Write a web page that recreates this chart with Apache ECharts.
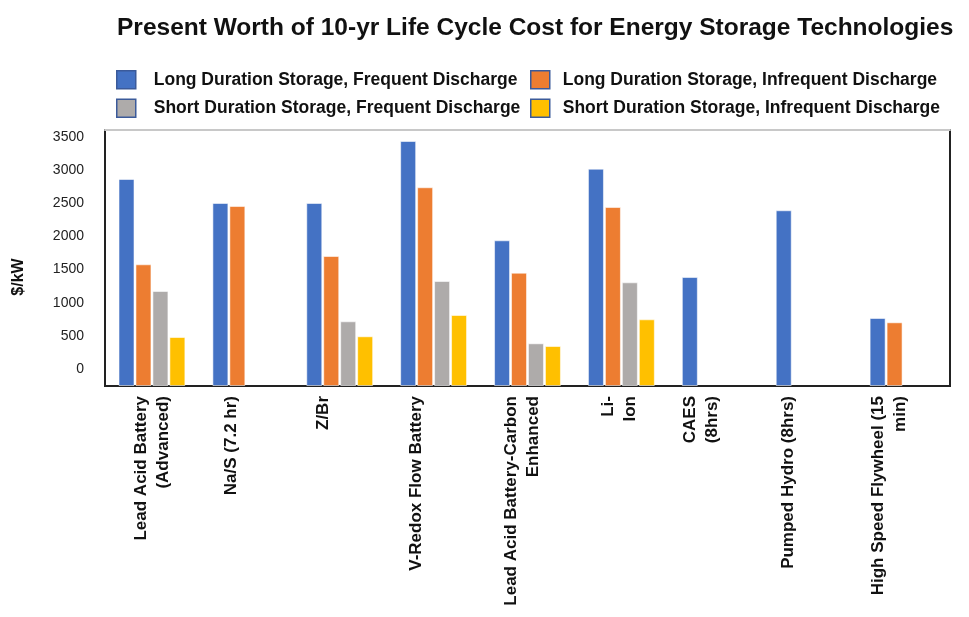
<!DOCTYPE html>
<html>
<head>
<meta charset="utf-8">
<title>Present Worth of 10-yr Life Cycle Cost</title>
<script src="https://cdn.jsdelivr.net/npm/echarts@6/dist/echarts.min.js"></script>
<style>
  html, body { margin: 0; padding: 0; background: #fff; }
  #chart { width: 969px; height: 617px; }
</style>
</head>
<body>
<div id="chart"></div>
<script>
// categories (x axis)
var technologies = [
  'Lead Acid Battery\n(Advanced)',
  'Na/S (7.2 hr)',
  'Z/Br',
  'V-Redox Flow Battery',
  'Lead Acid Battery-Carbon\nEnhanced',
  'Li-\nIon',
  'CAES\n(8hrs)',
  'Pumped Hydro (8hrs)',
  'High Speed Flywheel (15\nmin)'
];
var seriesNames = [
  'Long Duration Storage, Frequent Discharge',
  'Long Duration Storage, Infrequent Discharge',
  'Short Duration Storage, Frequent Discharge',
  'Short Duration Storage, Infrequent Discharge'
];
// $/kW
var longFrequent   = [3123, 2761, 2761, 3696, 2198, 3278, 1644, 2651, 1026];
var longInfrequent = [1836, 2715, 1961, 2998, 1709, 2700, null, null, 961];
var shortFrequent  = [1433, null, 976, 1584, 644, 1564, null, null, null];
var shortInfrequent = [739, null, 750, 1071, 603, 1006, null, null, null];
// y tick labels
var yTicks = [0, 500, 1000, 1500, 2000, 2500, 3000, 3500];

// how far each category label sits left of its bar group (px)
var labelShift = [0, 15, 16, 17, 5, 2, 14, 21, 14];
var colors = ['#4472C4', '#ED7D31', '#AEABAA', '#FFC000'];

var chart = echarts.init(document.getElementById('chart'));

// an empty spacer line under the label pushes it to the left
var labelRich = {};
labelShift.forEach(function (s, i) {
  if (s > 0) labelRich['sp' + i] = { height: s * 2, lineHeight: s * 2, fontSize: 1 };
});

function bar(idx, data) {
  return {
    name: seriesNames[idx],
    type: 'bar',
    xAxisIndex: 0,
    yAxisIndex: 0,
    barWidth: 16,
    barGap: '6%',
    itemStyle: { color: colors[idx], borderColor: 'rgba(255,255,255,0.55)', borderWidth: 1 },
    data: data
  };
}

function legendCol(left, textGap, names) {
  return {
    orient: 'vertical',
    left: left,
    top: 65,
    icon: 'rect',
    itemWidth: 19,
    itemHeight: 18,
    itemGap: 9,
    textStyle: { fontFamily: 'Liberation Sans', fontSize: 17.5, fontWeight: 'bold', color: '#111', padding: [0, 0, 0, textGap] },
    itemStyle: { borderColor: '#3b5a9a', borderWidth: 1.5 },
    data: names
  };
}

var option = {
  backgroundColor: '#fff',
  animation: false,
  textStyle: { fontFamily: 'Liberation Sans' },
  title: {
    text: 'Present Worth of 10-yr Life Cycle Cost for Energy Storage Technologies',
    left: 112,
    top: 11,
    textStyle: { fontFamily: 'Liberation Sans', fontSize: 24.5, fontWeight: 'bold', color: '#111' }
  },
  legend: [
    legendCol(111, 13, [seriesNames[0], seriesNames[2]]),
    legendCol(525, 8, [seriesNames[1], seriesNames[3]])
  ],
  grid: {
    left: 105, right: 19, top: 130, bottom: 231,
    show: true, borderColor: '#222', borderWidth: 2, backgroundColor: '#fff'
  },
  xAxis: [
    {
      type: 'category',
      data: technologies,
      axisLine: { onZero: false, lineStyle: { color: '#222', width: 2 } },
      axisTick: { show: false },
      axisLabel: {
        interval: 0, rotate: 90, margin: 10,
        fontSize: 17, fontWeight: 'bold', lineHeight: 22, color: '#111',
        formatter: function (value, idx) {
          return labelShift[idx] > 0 ? value + '\n{sp' + idx + '| }' : value;
        },
        rich: labelRich
      }
    },
    {
      type: 'category',
      position: 'top',
      data: technologies,
      axisLine: { onZero: false, lineStyle: { color: '#c8c8c8', width: 2 } },
      axisTick: { show: false },
      axisLabel: { show: false }
    }
  ],
  yAxis: [
    {
      type: 'value',
      min: 0,
      max: 3862,
      axisLine: { show: false },
      axisTick: { show: false },
      axisLabel: { show: false },
      splitLine: { show: false }
    },
    {
      type: 'value',
      position: 'left',
      min: -256,
      max: 3606,
      name: '$/kW',
      nameLocation: 'middle',
      nameGap: 78,
      nameTextStyle: { fontSize: 16, fontWeight: 'bold', color: '#111', padding: [0, 38, 0, 0] },
      axisLine: { show: false, onZero: false },
      axisTick: { show: false },
      splitLine: { show: false },
      axisLabel: {
        customValues: yTicks, margin: 21, fontSize: 14, color: '#222',
        formatter: function (v) { return String(v); }
      }
    }
  ],
  series: [
    bar(0, longFrequent),
    bar(1, longInfrequent),
    bar(2, shortFrequent),
    bar(3, shortInfrequent)
  ]
};

chart.setOption(option);
</script>
</body>
</html>
